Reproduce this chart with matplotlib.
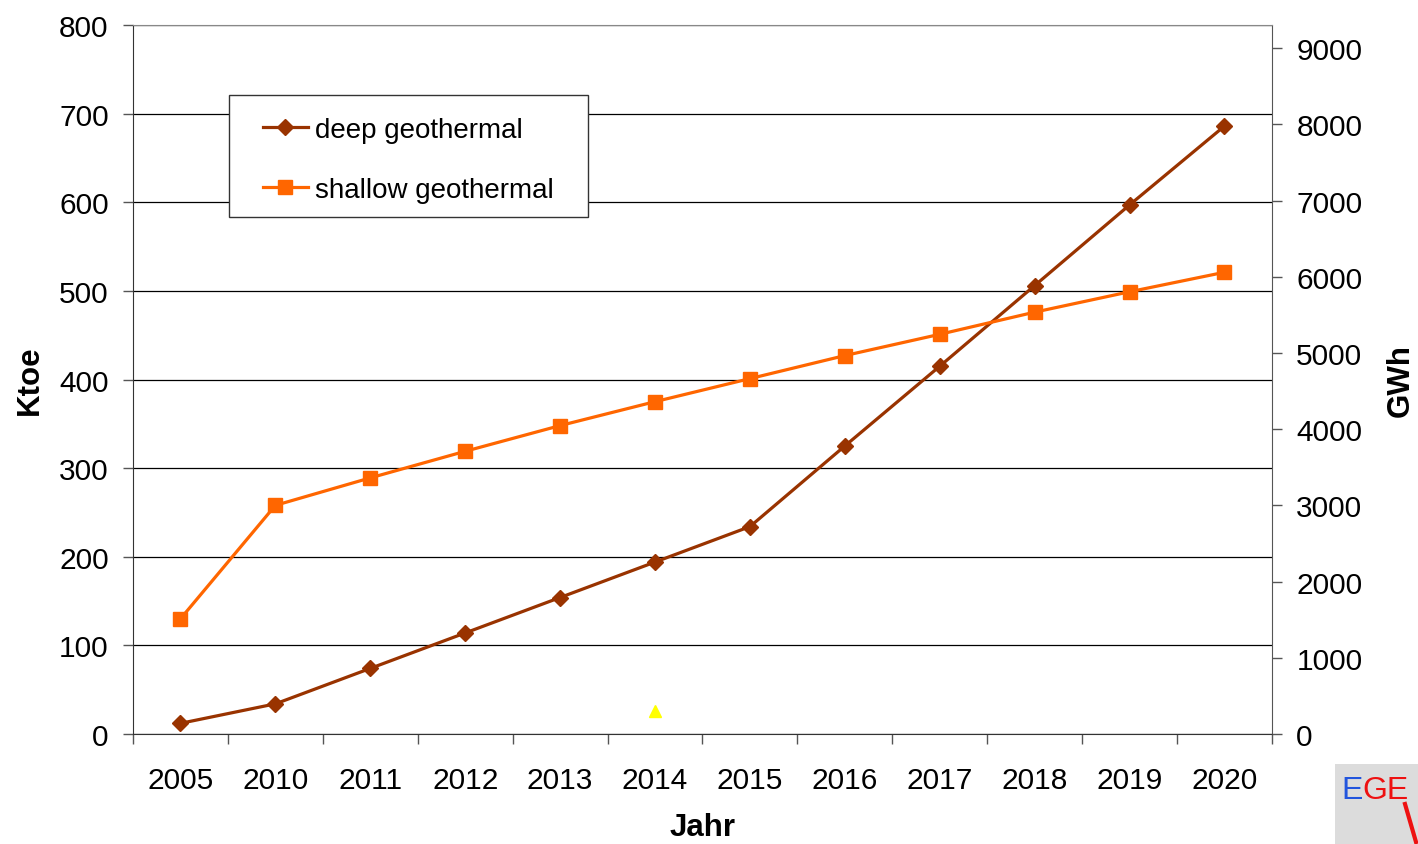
import matplotlib.pyplot as plt
import numpy as np
from matplotlib.patches import Rectangle

plt.rcParams['font.family'] = ['Liberation Sans', 'DejaVu Sans']

jahre = ['2005', '2010', '2011', '2012', '2013', '2014', '2015', '2016', '2017', '2018', '2019', '2020']
deep = [12, 34, 74, 114, 154, 194, 234, 325, 415, 506, 597, 686]
shallow = [130, 258, 289, 319, 348, 375, 401, 427, 451, 476, 499, 521]
# einzelner gelber Punkt bei 2014
extra_jahr = '2014'
extra_wert = 26

ktoe_ticks = [0, 100, 200, 300, 400, 500, 600, 700, 800]
gwh_ticks = [0, 1000, 2000, 3000, 4000, 5000, 6000, 7000, 8000, 9000]
gwh_pro_ktoe = 11.63

fig = plt.figure(figsize=(14.18, 8.45), dpi=100)
ax = fig.add_axes([0.0938, 0.1302, 0.8032, 0.839])

x = np.arange(len(jahre))
ax.plot(x, deep, color='#993300', lw=2.3, marker='D', ms=8, label='deep geothermal', zorder=3)
ax.plot(x, shallow, color='#FF6600', lw=2.3, marker='s', ms=9.5, label='shallow geothermal', zorder=3)
ax.plot([jahre.index(extra_jahr)], [extra_wert], ls='none', marker='^', ms=8, color='#FFFF00', zorder=3)

ax.set_xlim(-0.5, len(jahre) - 0.5)
ax.set_ylim(0, 800)
ax.set_yticks(ktoe_ticks)
ax.set_xticks(x)
ax.set_xticklabels(jahre)
ax.set_xticks(np.arange(-0.5, len(jahre)), minor=True)
ax.tick_params(axis='x', which='major', length=0, pad=23, labelsize=21.5)
ax.tick_params(axis='x', which='minor', length=7, width=1, color='#555555')
ax.tick_params(axis='y', length=7, width=1, labelsize=21.5, pad=10.5, color='#555555')
ax.yaxis.grid(True, color='black', lw=0.9)
ax.set_axisbelow(True)

ax.spines['top'].set_color('#888888')
ax.spines['right'].set_color('#555555')
ax.spines['left'].set_color('#333333')
ax.spines['bottom'].set_color('#333333')

ax.set_xlabel('Jahr', fontsize=22.5, fontweight='bold', labelpad=13)
ax.set_ylabel('Ktoe', fontsize=22.5, fontweight='bold', labelpad=10)

ax2 = ax.twinx()
ax2.set_ylim(0, 800 * gwh_pro_ktoe)
ax2.set_yticks(gwh_ticks)
ax2.tick_params(axis='y', length=7, width=1, labelsize=21.5, pad=10.5, color='#555555')
ax2.set_ylabel('GWh', fontsize=22.5, fontweight='bold', labelpad=17)
for s in ax2.spines.values():
    s.set_visible(False)

# Legendenrahmen
ax.add_patch(Rectangle((0.0843, 0.7292), 0.3152, 0.1721, transform=ax.transAxes,
                       facecolor='white', edgecolor='#333333', lw=1, zorder=4))
leg = ax.legend(loc='upper left', bbox_to_anchor=(0.1141, 0.870), fontsize=20, frameon=False,
                borderpad=0, labelspacing=1.22, handlelength=1.62, handletextpad=0.25,
                borderaxespad=0)
leg.set_zorder(5)

# EGEC Logo unten rechts (abgeschnitten)
fig.patches.append(Rectangle((1335 / 1418, 0), 83 / 1418, 80 / 845, transform=fig.transFigure,
                             facecolor='#DCDCDC', edgecolor='none'))
fig.text(1341 / 1418, 54 / 845, 'E', color='#2255DD', fontsize=23, va='center', ha='left')
fig.text(1362 / 1418, 54 / 845, 'GE', color='#EE1111', fontsize=23, va='center', ha='left')
fig.lines.append(plt.Line2D([1405 / 1418, 1416 / 1418], [40 / 845, 2 / 845], transform=fig.transFigure,
                            color='#EE1111', lw=3))

fig.savefig('out.png', dpi=100)
